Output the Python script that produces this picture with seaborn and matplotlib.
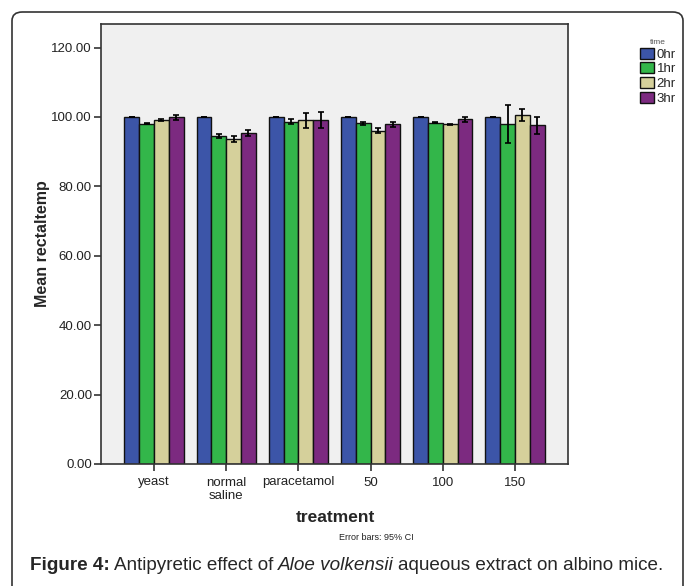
import pandas as pd
import matplotlib.pyplot as plt
import seaborn as sns
from matplotlib.patches import FancyBboxPatch

# Mean rectal temperature per treatment and time
treatments = ['yeast', 'normal\nsaline', 'paracetamol', '50', '100', '150']
times = ['0hr', '1hr', '2hr', '3hr']
mean_0hr = [100.0, 100.0, 100.0, 100.0, 100.0, 100.0]
mean_1hr = [98.1, 94.5, 98.6, 98.2, 98.4, 97.9]
mean_2hr = [99.1, 93.6, 99.0, 96.0, 97.9, 100.6]
mean_3hr = [99.9, 95.3, 99.0, 97.9, 99.4, 97.6]
# half-width of the 95% CI
ci_0hr = [0.1, 0.1, 0.1, 0.1, 0.1, 0.1]
ci_1hr = [0.2, 0.5, 0.7, 0.5, 0.15, 5.5]
ci_2hr = [0.3, 0.8, 2.1, 0.7, 0.15, 1.8]
ci_3hr = [0.7, 0.9, 2.3, 0.8, 0.7, 2.4]

colors = ['#3c55a8', '#33b64a', '#d5d09b', '#7c2a80']

means = [mean_0hr, mean_1hr, mean_2hr, mean_3hr]
cis = [ci_0hr, ci_1hr, ci_2hr, ci_3hr]
df = pd.DataFrame({
    'treatment': [t for _ in times for t in treatments],
    'time': [h for h in times for _ in treatments],
    'rectaltemp': [v for m in means for v in m],
})

sns.set_style('ticks')
plt.rcParams['font.family'] = ['Liberation Sans', 'DejaVu Sans']

fig = plt.figure(figsize=(6.85, 5.86), dpi=100)
W, H = 685, 586
ax = fig.add_axes([101 / W, 1 - 464 / H, (568 - 101) / W, (464 - 24) / H])
ax.set_facecolor('#f0f0f0')

sns.barplot(data=df, x='treatment', y='rectaltemp', hue='time', order=treatments,
            hue_order=times, palette=colors, width=0.82, errorbar=None,
            edgecolor='#111111', linewidth=1.0, saturation=1, ax=ax)

# error bars on each bar
for cont, err in zip(ax.containers, cis):
    xs = [b.get_x() + b.get_width() / 2 for b in cont]
    ys = [b.get_height() for b in cont]
    ax.errorbar(xs, ys, yerr=err, fmt='none', ecolor='black', elinewidth=1.3,
                capsize=2, capthick=1.2)

ax.set_ylim(0, 126.8)
ax.set_xlim(-0.734, 5.734)
ax.set_yticks([0, 20, 40, 60, 80, 100, 120])
ax.set_yticklabels([f'{v:.2f}' for v in [0, 20, 40, 60, 80, 100, 120]])
ax.tick_params(axis='both', labelsize=9.5, length=5, width=1.2, color='#333333',
               labelcolor='#222222', pad=1.5)
ax.tick_params(axis='x', pad=4)
for s in ax.spines.values():
    s.set_visible(True)
    s.set_color('#333333')
    s.set_linewidth(1.2)

ax.set_ylabel('Mean rectaltemp', fontsize=11.5, fontweight='bold', labelpad=1)
ax.set_xlabel('')
fig.text(335 / W, 1 - 518 / H, 'treatment', fontsize=12.5, fontweight='bold',
         ha='center', va='center')

handles, labels = ax.get_legend_handles_labels()
ax.get_legend().remove()
leg = fig.legend(handles, labels, title='time', loc='upper left',
                 bbox_to_anchor=(635 / W, 1 - 34 / H), frameon=False,
                 fontsize=9.5, title_fontsize=6, handlelength=1.05, handleheight=0.9,
                 handletextpad=0.2, labelspacing=0.12, borderaxespad=0)
leg.get_title().set_color('#555555')

fig.text(376 / W, 1 - 538 / H, 'Error bars: 95% CI', fontsize=6.5, ha='center',
         va='center', color='#222222')

# caption
cap_y = 1 - 566 / H
cap_fs = 13.6
t1 = fig.text(30 / W, cap_y, 'Figure 4:', fontsize=cap_fs, fontweight='bold', va='center')
fig.canvas.draw()
r = fig.canvas.get_renderer()
x = t1.get_window_extent(r).x1 + 4
t2 = fig.text(x / W, cap_y, 'Antipyretic effect of ', fontsize=cap_fs, va='center')
x = t2.get_window_extent(r).x1
t3 = fig.text(x / W, cap_y, 'Aloe volkensii', fontsize=cap_fs, style='italic', va='center')
x = t3.get_window_extent(r).x1 + 4
fig.text(x / W, cap_y, 'aqueous extract on albino mice.', fontsize=cap_fs, va='center')

# outer rounded frame
frame = FancyBboxPatch((12 / W, -0.1), (683 - 12) / W, 1.1 - 12 / H,
                       boxstyle='round,pad=0,rounding_size=0.015',
                       transform=fig.transFigure, fill=False, edgecolor='#333333',
                       linewidth=1.2, clip_on=False)
fig.patches.append(frame)

fig.savefig('out.png', dpi=100)
